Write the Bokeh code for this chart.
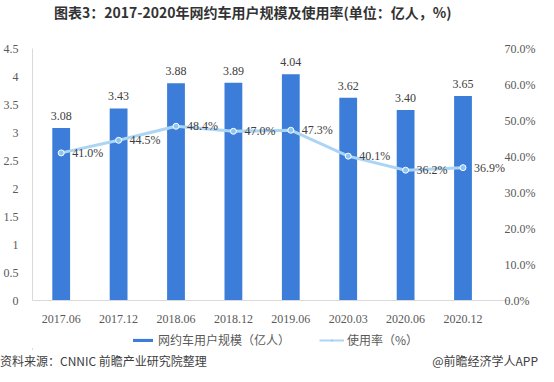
from bokeh.plotting import figure
from bokeh.layouts import column
from bokeh.models import (Range1d, LinearAxis, FixedTicker, PrintfTickFormatter,
                          CustomJSTickFormatter, Legend, LegendItem, ColumnDataSource, Div)
from bokeh.embed import file_html
from bokeh.resources import INLINE
from bokeh.core.properties import value

categories = ["2017.06", "2017.12", "2018.06", "2018.12", "2019.06", "2020.03", "2020.06", "2020.12"]
users = [3.08, 3.43, 3.88, 3.89, 4.04, 3.62, 3.40, 3.65]
rates = [41.0, 44.5, 48.4, 47.0, 47.3, 40.1, 36.2, 36.9]
left_ticks = [0, 0.5, 1, 1.5, 2, 2.5, 3, 3.5, 4, 4.5]
right_ticks = [0, 10, 20, 30, 40, 50, 60, 70]
title = "图表3：2017-2020年网约车用户规模及使用率(单位：亿人，%)"
series_names = ["网约车用户规模（亿人）", "使用率（%）"]
source_note = "资料来源：CNNIC 前瞻产业研究院整理"
brand_note = "@前瞻经济学人APP"

SERIF = "Liberation Serif"
CJK = "Noto Sans CJK SC"
BAR = "#3b7dd8"
LINE = "#acd5f4"
DOT = "#8cc6f2"

idx = list(range(len(categories)))
src = ColumnDataSource(dict(
    x=idx, users=users, rates=rates,
    ulab=["%.2f" % u for u in users],
    rlab=["%.1f%%" % r for r in rates],
))

head = Div(text=('<div style="padding-left:54px;font-family:\'Noto Sans CJK SC\';white-space:nowrap;'
                 'font-size:14px;font-weight:bold;color:#333333;padding-top:2px;">%s</div>') % title,
           width=538, height=24, margin=0)

p = figure(width=538, height=301, x_range=Range1d(-0.5, len(categories) - 0.19),
           y_range=Range1d(0, 4.5), output_backend="svg", toolbar_location=None,
           min_border_left=22, min_border_right=28, min_border_bottom=23, min_border_top=24)
p.extra_y_ranges = {"rate": Range1d(0, 70)}
p.outline_line_color = None
p.xgrid.grid_line_color = None
p.ygrid.grid_line_color = None

p.vbar(x="x", top="users", width=0.31, source=src, fill_color=BAR, line_color=None)
p.text(x="x", y="users", text="ulab", source=src, text_font=value(SERIF), text_font_size="12px",
       text_color="#404040", text_align="center", text_baseline="bottom", y_offset=-8)

p.line(x="x", y="rates", source=src, y_range_name="rate", line_color=LINE, line_width=3)
p.scatter(x="x", y="rates", source=src, y_range_name="rate", size=6,
          fill_color=DOT, line_color="#ffffff", line_width=1)
p.text(x="x", y="rates", text="rlab", source=src, y_range_name="rate", text_font=value(SERIF),
       text_font_size="12px", text_color="#404040", text_align="left", text_baseline="middle", x_offset=11)

# left axis
p.yaxis.ticker = FixedTicker(ticks=left_ticks)
p.yaxis.formatter = CustomJSTickFormatter(code="return String(tick);")
ax = p.yaxis[0]
ax.axis_line_color = "#d9d9d9"
ax.major_tick_line_color = None
ax.minor_tick_line_color = None
ax.major_label_text_font = SERIF
ax.major_label_text_font_size = "12px"
ax.major_label_text_color = "#595959"
ax.major_label_standoff = 8

# right axis
ra = LinearAxis(y_range_name="rate", ticker=FixedTicker(ticks=right_ticks),
                formatter=PrintfTickFormatter(format="%.1f%%"))
ra.axis_line_color = None
ra.major_tick_line_color = None
ra.minor_tick_line_color = None
ra.major_label_text_font = SERIF
ra.major_label_text_font_size = "12px"
ra.major_label_text_color = "#595959"
ra.major_label_standoff = -11
p.add_layout(ra, "right")

# bottom axis
xa = p.xaxis[0]
xa.ticker = FixedTicker(ticks=idx)
xa.major_label_overrides = {i: c for i, c in zip(idx, categories)}
xa.axis_line_color = "#d9d9d9"
xa.major_tick_line_color = None
xa.minor_tick_line_color = None
xa.major_label_text_font = SERIF
xa.major_label_text_font_size = "12px"
xa.major_label_text_color = "#595959"
xa.major_label_standoff = 8

# legend strip
p2 = figure(width=538, height=25, x_range=Range1d(0, 10), y_range=Range1d(0, 10),
            output_backend="svg", toolbar_location=None, min_border=0,
            x_axis_location=None, y_axis_location=None)
p2.outline_line_color = None
p2.xgrid.grid_line_color = None
p2.ygrid.grid_line_color = None
lb = p2.vbar(x=[-100], top=[1], width=1, fill_color=BAR, line_color=None)
ll = p2.line(x=[-100, -99], y=[1, 1], line_color=LINE, line_width=2)
lp = p2.scatter(x=[-100], y=[1], size=5, fill_color="#ffffff", line_color=DOT, line_width=1)
legend = Legend(items=[LegendItem(label=series_names[0], renderers=[lb]),
                       LegendItem(label=series_names[1], renderers=[ll, lp])],
                orientation="horizontal", location=(98, 2), border_line_color=None,
                background_fill_alpha=0,
                label_text_font=CJK, label_text_font_size="12px", label_text_color="#595959",
                glyph_height=4, glyph_width=25, spacing=29, margin=0, padding=2, label_standoff=3,
                label_height=14)
p2.add_layout(legend, "center")

footer = Div(text=('<div style="display:flex;justify-content:space-between;width:538px;'
                   'font-family:\'Noto Sans CJK SC\';font-size:12px;color:#404040;padding-top:2px;">'
                   '<span>%s</span><span>%s</span></div>') % (source_note, brand_note),
             width=538, height=16, margin=0)

layout = column(head, p, p2, footer, spacing=0)
open("out.html", "w").write(file_html(layout, INLINE))
